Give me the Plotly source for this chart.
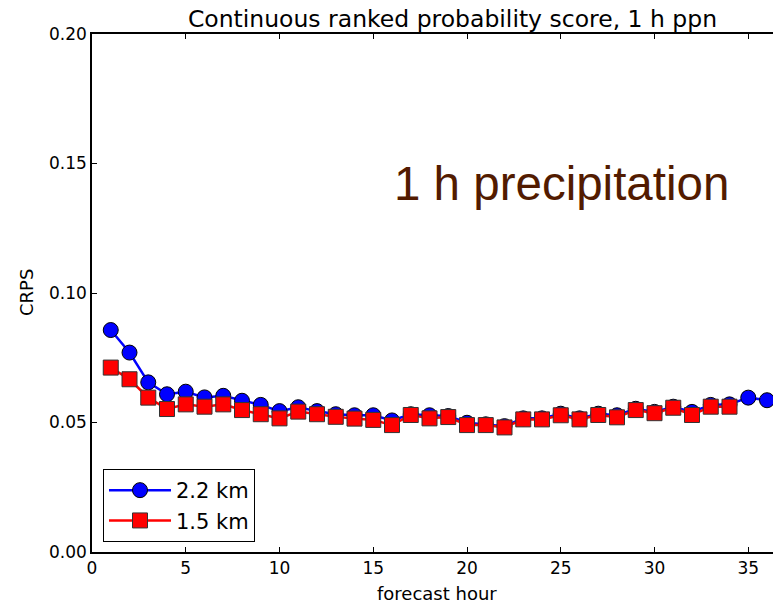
import plotly.graph_objects as go

# CRPS of 1 h precipitation per forecast hour, two model resolutions
hours_22 = list(range(1, 37))
crps_22 = [0.0857, 0.0770, 0.0655, 0.0609, 0.0619, 0.0597, 0.0603, 0.0584, 0.0568, 0.0544,
           0.0559, 0.0544, 0.0532, 0.0528, 0.0528, 0.0508, 0.0532, 0.0528, 0.0525, 0.0499,
           0.0493, 0.0486, 0.0516, 0.0516, 0.0534, 0.0516, 0.0534, 0.0528, 0.0553, 0.0541,
           0.0561, 0.0541, 0.0568, 0.0570, 0.0596, 0.0586]

hours_15 = list(range(1, 35))
crps_15 = [0.0712, 0.0667, 0.0596, 0.0552, 0.0570, 0.0561, 0.0570, 0.0548, 0.0532, 0.0516,
           0.0542, 0.0532, 0.0522, 0.0515, 0.0510, 0.0490, 0.0529, 0.0516, 0.0521, 0.0490,
           0.0490, 0.0481, 0.0512, 0.0512, 0.0528, 0.0512, 0.0529, 0.0520, 0.0548, 0.0536,
           0.0557, 0.0529, 0.0561, 0.0561]

x_ticks = [0, 5, 10, 15, 20, 25, 30, 35]
y_ticks = [0.00, 0.05, 0.10, 0.15, 0.20]

FONT = "DejaVu Sans"

fig = go.Figure()
fig.add_trace(go.Scatter(
    x=hours_22, y=crps_22, name="2.2 km", mode="lines+markers",
    line=dict(color="#0000ff", width=2.5),
    marker=dict(symbol="circle", size=15, color="#0000ff",
                line=dict(color="#000000", width=1)),
))
fig.add_trace(go.Scatter(
    x=hours_15, y=crps_15, name="1.5 km", mode="lines+markers",
    line=dict(color="#ff0000", width=2.5),
    marker=dict(symbol="square", size=15, color="#ff0000",
                line=dict(color="#333333", width=1)),
))

fig.update_layout(
    width=773, height=603,
    margin=dict(l=92, r=0, t=34, b=51, pad=0),
    paper_bgcolor="white", plot_bgcolor="white",
    font=dict(family=FONT, size=17, color="black"),
    showlegend=True,
    legend=dict(
        x=(103 - 92) / 681, y=(552 - 542) / 518, xanchor="left", yanchor="bottom",
        bordercolor="black", borderwidth=1, bgcolor="white",
        font=dict(family=FONT, size=21),
        itemwidth=62,
    ),
    title=dict(
        text="Continuous ranked probability score, 1 h ppn",
        font=dict(family=FONT, size=23.5, color="black"),
        x=(452.5 - 92) / 681, xref="paper", xanchor="center",
        y=1 - 19 / 603, yref="container", yanchor="middle",
    ),
)

fig.update_xaxes(
    range=[0, 36.32], tickvals=x_ticks, ticktext=[str(v) for v in x_ticks],
    showgrid=False, zeroline=False,
    showline=True, linecolor="black", linewidth=1.5, mirror="ticks",
    ticks="inside", ticklen=5, tickwidth=1, tickcolor="black",
    tickfont=dict(family=FONT, size=17),
)
fig.update_yaxes(
    range=[0, 0.2], tickvals=y_ticks, ticktext=[f"{v:.2f}" for v in y_ticks],
    showgrid=False, zeroline=False,
    showline=True, linecolor="black", linewidth=1.5, mirror=False,
    ticks="inside", ticklen=5, tickwidth=1, tickcolor="black",
    tickfont=dict(family=FONT, size=17),
)

# axis titles
fig.add_annotation(text="forecast hour", xref="paper", yref="paper",
                   x=(437.5 - 92) / 681, y=-(593 - 552) / 518,
                   xanchor="center", yanchor="middle", showarrow=False,
                   font=dict(family=FONT, size=18))
fig.add_annotation(text="CRPS", xref="paper", yref="paper",
                   x=-(92 - 26) / 681, y=(552 - 293) / 518,
                   xanchor="center", yanchor="middle", textangle=-90,
                   showarrow=False, font=dict(family=FONT, size=18))

# in-panel label
fig.add_annotation(text="1 h precipitation", xref="paper", yref="paper",
                   x=(561 - 92) / 681, y=(552 - 183) / 518,
                   xanchor="center", yanchor="middle", showarrow=False,
                   font=dict(family="Liberation Sans", size=47.5, color="#521b00"))

fig.write_html("out.html")
